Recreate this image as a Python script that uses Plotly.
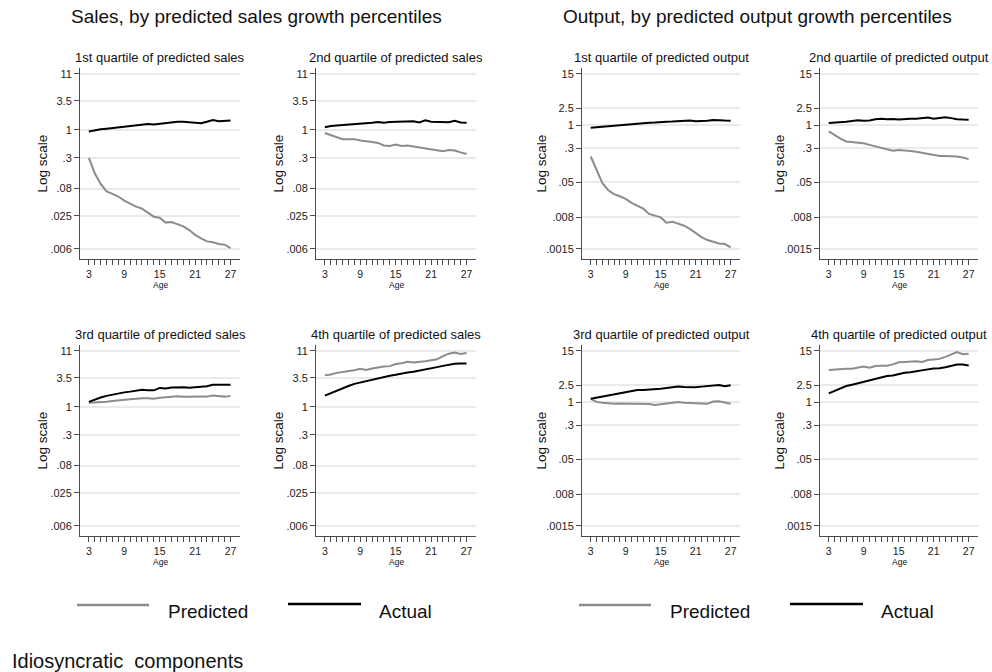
import plotly.graph_objects as go

W, H = 992, 672
FONT = "Liberation Sans, Arial, Helvetica, sans-serif"

# ---------------- data ----------------
ages = list(range(3, 28))
age_tick_labels = ["3", "9", "15", "21", "27"]

sales_ytick_vals = [0.006, 0.025, 0.08, 0.3, 1, 3.5, 11]
sales_ytick_text = [".006", ".025", ".08", ".3", "1", "3.5", "11"]
output_ytick_vals = [0.0015, 0.008, 0.05, 0.3, 1, 2.5, 15]
output_ytick_text = [".0015", ".008", ".05", ".3", "1", "2.5", "15"]

sales_q1_pred = [0.30, 0.155, 0.098, 0.071, 0.064, 0.057, 0.048, 0.042, 0.037, 0.034, 0.028, 0.024,
                 0.023, 0.0186, 0.019, 0.0176, 0.0158, 0.0135, 0.011, 0.0095, 0.0083, 0.0080,
                 0.0074, 0.0072, 0.0062]
sales_q1_act = [0.93, 0.98, 1.02, 1.05, 1.08, 1.11, 1.14, 1.18, 1.22, 1.25, 1.29, 1.26, 1.30, 1.34,
                1.38, 1.42, 1.42, 1.39, 1.38, 1.33, 1.41, 1.52, 1.44, 1.45, 1.49]
sales_q2_pred = [0.87, 0.79, 0.72, 0.67, 0.67, 0.67, 0.63, 0.60, 0.59, 0.57, 0.51, 0.50, 0.53, 0.50,
                 0.51, 0.49, 0.47, 0.45, 0.43, 0.41, 0.40, 0.42, 0.41, 0.38, 0.355]
sales_q2_act = [1.12, 1.18, 1.20, 1.22, 1.24, 1.30, 1.31, 1.32, 1.36, 1.40, 1.36, 1.40, 1.41, 1.42,
                1.45, 1.44, 1.37, 1.50, 1.42, 1.41, 1.41, 1.38, 1.47, 1.37, 1.36]
sales_q3_pred = [1.19, 1.20, 1.22, 1.25, 1.29, 1.33, 1.37, 1.39, 1.41, 1.45, 1.44, 1.41, 1.48, 1.50,
                 1.53, 1.58, 1.54, 1.53, 1.53, 1.53, 1.55, 1.62, 1.60, 1.55, 1.60]
sales_q3_act = [1.24, 1.37, 1.49, 1.60, 1.70, 1.80, 1.86, 1.92, 1.98, 2.08, 2.03, 2.03, 2.25, 2.20,
                2.30, 2.35, 2.33, 2.28, 2.33, 2.38, 2.42, 2.58, 2.60, 2.60, 2.58]
sales_q4_pred = [3.86, 4.0, 4.3, 4.45, 4.56, 4.8, 5.1, 4.85, 5.2, 5.5, 5.66, 5.74, 6.3, 6.5, 6.9,
                 6.7, 6.8, 7.1, 7.4, 7.7, 8.8, 9.8, 10.3, 9.7, 10.1]
sales_q4_act = [1.62, 1.80, 2.05, 2.25, 2.45, 2.68, 2.85, 3.0, 3.2, 3.4, 3.6, 3.8, 3.95, 4.2, 4.35,
                4.5, 4.7, 4.95, 5.2, 5.5, 5.8, 6.1, 6.35, 6.45, 6.4]

output_q1_pred = [0.195, 0.097, 0.048, 0.033, 0.027, 0.024, 0.021, 0.017, 0.0148, 0.0125, 0.0095,
                  0.0085, 0.0079, 0.0060, 0.0063, 0.0057, 0.0051, 0.0043, 0.0034, 0.0028, 0.0024,
                  0.0022, 0.0020, 0.00194, 0.00164]
output_q1_act = [0.885, 0.91, 0.94, 0.97, 0.99, 1.01, 1.05, 1.09, 1.13, 1.15, 1.15, 1.16, 1.20, 1.22,
                 1.23, 1.24, 1.26, 1.30, 1.24, 1.25, 1.28, 1.33, 1.29, 1.29, 1.28]
output_q2_pred = [0.73, 0.60, 0.50, 0.43, 0.42, 0.41, 0.39, 0.36, 0.335, 0.31, 0.28, 0.265, 0.275,
                  0.27, 0.262, 0.25, 0.235, 0.218, 0.208, 0.20, 0.20, 0.199, 0.194, 0.185, 0.17]
output_q2_act = [1.13, 1.15, 1.18, 1.21, 1.27, 1.31, 1.28, 1.30, 1.38, 1.42, 1.38, 1.41, 1.37, 1.41,
                 1.43, 1.42, 1.47, 1.52, 1.43, 1.50, 1.53, 1.47, 1.38, 1.36, 1.35]
output_q3_pred = [1.21, 1.03, 0.98, 0.94, 0.93, 0.95, 0.95, 0.93, 0.93, 0.93, 0.92, 0.88, 0.90, 0.95,
                  0.98, 1.02, 0.99, 0.97, 0.98, 0.96, 0.93, 1.05, 1.06, 1.00, 0.93]
output_q3_act = [1.21, 1.28, 1.36, 1.45, 1.55, 1.65, 1.74, 1.82, 1.92, 1.93, 1.95, 2.00, 2.05, 2.15,
                 2.22, 2.30, 2.25, 2.22, 2.22, 2.30, 2.38, 2.42, 2.50, 2.36, 2.48]
output_q4_pred = [5.5, 5.7, 5.8, 5.9, 5.9, 6.3, 6.6, 6.2, 6.8, 6.9, 6.9, 7.4, 8.3, 8.4, 8.6, 8.7, 8.4,
                  9.3, 9.6, 9.9, 11.0, 12.5, 14.2, 12.7, 13.0]
output_q4_act = [1.61, 1.85, 2.10, 2.37, 2.55, 2.75, 2.98, 3.20, 3.45, 3.72, 4.00, 4.15, 4.50, 4.75,
                 4.90, 5.10, 5.40, 5.70, 6.00, 6.05, 6.40, 6.90, 7.40, 7.40, 7.00]

main_titles = ["Sales, by predicted sales growth percentiles",
               "Output, by predicted output growth percentiles"]
legend_labels = ["Predicted", "Actual"]
footnote = "Idiosyncratic  components"

panels = [
    # title, predicted, actual, kind, col, row
    ("1st quartile of predicted sales", sales_q1_pred, sales_q1_act, "sales", 0, 0),
    ("2nd quartile of predicted sales", sales_q2_pred, sales_q2_act, "sales", 1, 0),
    ("3rd quartile of predicted sales", sales_q3_pred, sales_q3_act, "sales", 0, 1),
    ("4th quartile of predicted sales", sales_q4_pred, sales_q4_act, "sales", 1, 1),
    ("1st quartile of predicted output", output_q1_pred, output_q1_act, "output", 2, 0),
    ("2nd quartile of predicted output", output_q2_pred, output_q2_act, "output", 3, 0),
    ("3rd quartile of predicted output", output_q3_pred, output_q3_act, "output", 2, 1),
    ("4th quartile of predicted output", output_q4_pred, output_q4_act, "output", 3, 1),
]

# ---------------- layout geometry (pixels) ----------------
col_px = [(80, 240), (316, 476), (582, 740), (820, 978)]
row_px = [(68, 259), (345, 536)]
yrange = {"sales": [-2.409, 1.153], "output": [-3.053, 1.313]}
xrange_ = [1.5, 28.6]

PRED_COLOR = "#8c8c8c"
ACT_COLOR = "#000000"
AXIS_COLOR = "#4d4d4d"
GRID_COLOR = "#eaeaea"


def fx(p):
    return p / W


def fy(p):
    return 1 - p / H


fig = go.Figure()
annotations = []
shapes = []

for i, (title, pred, act, kind, c, r) in enumerate(panels, start=1):
    xs = "" if i == 1 else str(i)
    x0, x1 = col_px[c]
    y0, y1 = row_px[r]
    fig.add_trace(go.Scatter(x=ages, y=pred, mode="lines", xaxis="x" + xs, yaxis="y" + xs,
                             line=dict(color=PRED_COLOR, width=2), showlegend=False,
                             name=legend_labels[0]))
    fig.add_trace(go.Scatter(x=ages, y=act, mode="lines", xaxis="x" + xs, yaxis="y" + xs,
                             line=dict(color=ACT_COLOR, width=2), showlegend=False,
                             name=legend_labels[1]))
    tv = sales_ytick_vals if kind == "sales" else output_ytick_vals
    tt = sales_ytick_text if kind == "sales" else output_ytick_text
    xticktext = [str(a) if str(a) in age_tick_labels else "" for a in ages]
    fig.update_layout(**{
        "xaxis" + xs: dict(domain=[fx(x0), fx(x1)], anchor="y" + xs, range=xrange_,
                           tickvals=ages, ticktext=xticktext, ticks="outside", ticklen=5,
                           tickwidth=1, tickcolor=AXIS_COLOR, showline=True, linecolor=AXIS_COLOR,
                           linewidth=1, showgrid=False, zeroline=False,
                           tickfont=dict(size=10.5, color="#222", family=FONT)),
        "yaxis" + xs: dict(domain=[fy(y1), fy(y0)], anchor="x" + xs, type="log", range=yrange[kind],
                           tickvals=tv, ticktext=tt, ticks="outside", ticklen=5, tickwidth=1,
                           tickcolor=AXIS_COLOR, showline=True, linecolor=AXIS_COLOR, linewidth=1,
                           showgrid=True, gridcolor=GRID_COLOR, gridwidth=1.5, zeroline=False,
                           tickfont=dict(size=11, color="#222", family=FONT)),
    })
    # panel title
    annotations.append(dict(text=title, x=fx((x0 + x1) / 2), y=fy(y0 - 11), xref="paper",
                            yref="paper", showarrow=False, xanchor="center", yanchor="middle",
                            font=dict(size=13, color="#111", family=FONT)))
    # y title
    off = 38 if kind == "sales" else 41
    annotations.append(dict(text="Log scale", x=fx(x0 - off), y=fy((y0 + y1) / 2), xref="paper",
                            yref="paper", showarrow=False, textangle=-90, xanchor="center",
                            yanchor="middle", font=dict(size=13.5, color="#111", family=FONT)))
    # x title
    annotations.append(dict(text="Age", x=fx((x0 + x1) / 2), y=fy(y1 + 26), xref="paper",
                            yref="paper", showarrow=False, xanchor="center", yanchor="middle",
                            font=dict(size=8.5, color="#111", family=FONT)))

# main titles
annotations.append(dict(text=main_titles[0], x=fx(256), y=fy(16), xref="paper", yref="paper",
                        showarrow=False, xanchor="center", yanchor="middle",
                        font=dict(size=19, color="#111", family=FONT)))
annotations.append(dict(text=main_titles[1], x=fx(757), y=fy(16), xref="paper", yref="paper",
                        showarrow=False, xanchor="center", yanchor="middle",
                        font=dict(size=19, color="#111", family=FONT)))

# legends (one under each block)
for dx in (0, 502):
    shapes.append(dict(type="line", xref="paper", yref="paper", x0=fx(77 + dx), x1=fx(149 + dx),
                       y0=fy(605), y1=fy(605), line=dict(color=PRED_COLOR, width=2.5)))
    shapes.append(dict(type="line", xref="paper", yref="paper", x0=fx(288 + dx), x1=fx(361 + dx),
                       y0=fy(604), y1=fy(604), line=dict(color=ACT_COLOR, width=2.5)))
    annotations.append(dict(text=legend_labels[0], x=fx(166 + dx), y=fy(611), xref="paper",
                            yref="paper", showarrow=False, xanchor="left", yanchor="middle",
                            font=dict(size=19, color="#111", family=FONT)))
    annotations.append(dict(text=legend_labels[1], x=fx(377 + dx), y=fy(611), xref="paper",
                            yref="paper", showarrow=False, xanchor="left", yanchor="middle",
                            font=dict(size=19, color="#111", family=FONT)))

annotations.append(dict(text=footnote.replace("  ", "&nbsp; "), x=fx(10), y=fy(661), xref="paper",
                        yref="paper", showarrow=False, xanchor="left", yanchor="middle",
                        font=dict(size=20, color="#111", family=FONT)))

fig.update_layout(width=W, height=H, margin=dict(l=0, r=0, t=0, b=0),
                  paper_bgcolor="white", plot_bgcolor="white",
                  font=dict(family=FONT, color="#111"),
                  annotations=annotations, shapes=shapes, showlegend=False)

fig.write_html("out.html", config={"displayModeBar": False},
               post_script="document.body.style.margin='0';document.body.style.overflow='hidden';")
